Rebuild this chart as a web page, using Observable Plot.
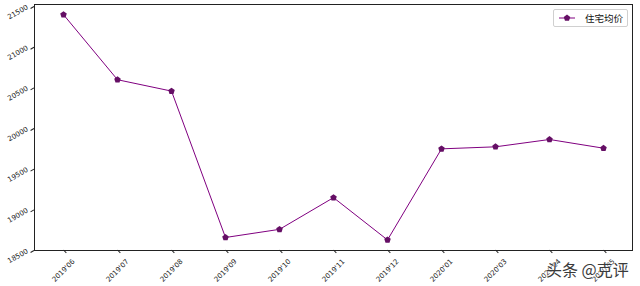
<!DOCTYPE html>
<html><head><meta charset="utf-8">
<script src="https://cdn.jsdelivr.net/npm/d3@7"></script>
<script src="https://cdn.jsdelivr.net/npm/@observablehq/plot@0.6"></script>
<style>
body{margin:0;background:#fff;}
#wrap{position:relative;width:640px;height:286px;overflow:hidden;}
#legend{position:absolute;left:553px;top:9px;width:73px;height:16px;border:1px solid #d0d0d0;border-radius:2px;background:#fff;display:flex;align-items:center;font-family:"Noto Sans CJK SC",sans-serif;font-size:9.5px;color:#111;}
#legend svg{margin-left:5px;margin-right:10px;}
#wm{position:absolute;left:546px;top:257px;font-family:"Noto Sans CJK SC",sans-serif;font-size:16px;color:#3a3a3a;text-shadow:0 0 2px #fff,0 0 2px #fff;letter-spacing:0px;white-space:nowrap;}
</style></head><body><div id="wrap"></div>
<script>
const months = ["2019'06","2019'07","2019'08","2019'09","2019'10","2019'11","2019'12","2020'01","2020'03","2020'04","2020'05"];
const prices = [21400, 20600, 20460, 18660, 18760, 19150, 18630, 19750, 19775, 19865, 19758];
const yTicks = [18500, 19000, 19500, 20000, 20500, 21000, 21500];
const seriesName = "住宅均价";
const watermark = "头条 @克评";

const data = months.map((m, i) => ({month: m, price: prices[i]}));
const pentagon = {draw(ctx, size) {
  const r = Math.sqrt(size / Math.PI) * 1.15;
  for (let i = 0; i < 5; i++) {
    const a = -Math.PI / 2 + i * 2 * Math.PI / 5;
    const x = r * Math.cos(a), y = r * Math.sin(a);
    if (i) ctx.lineTo(x, y); else ctx.moveTo(x, y);
  }
  ctx.closePath();
}};

const chart = Plot.plot({
  width: 640, height: 286,
  marginLeft: 34, marginRight: 8, marginTop: 4, marginBottom: 36,
  style: {fontFamily: "DejaVu Sans", fontSize: "7px", color: "#222", background: "#fff"},
  x: {type: "point", domain: months, padding: 0.5, label: null},
  y: {domain: [18500, 21525], label: null},
  marks: [
    Plot.axisX({ticks: months, tickSize: 4, rotate: -45, textAnchor: "middle", lineAnchor: "middle", tickPadding: 16, label: null}),
    Plot.axisY({ticks: yTicks, tickSize: 4, rotate: -30, textAnchor: "end", tickPadding: 3, tickFormat: d => String(d), label: null}),
    Plot.frame({stroke: "#222", strokeWidth: 1}),
    Plot.line(data, {x: "month", y: "price", stroke: "#800080", strokeWidth: 1}),
    Plot.dot(data, {x: "month", y: "price", symbol: pentagon, r: 3, fill: "#650f65", stroke: "none"})
  ]
});
const wrap = document.getElementById("wrap");
wrap.appendChild(chart);

const legend = document.createElement("div");
legend.id = "legend";
legend.innerHTML = `<svg width="16" height="10"><line x1="0" y1="5" x2="16" y2="5" stroke="#800080" stroke-width="1"/><path transform="translate(8,5)" fill="#650f65" d="${d3.symbol(pentagon, 28)()}"/></svg><span>${seriesName}</span>`;
wrap.appendChild(legend);

const wm = document.createElement("div");
wm.id = "wm";
wm.textContent = watermark;
wrap.appendChild(wm);
</script>
</body></html>
